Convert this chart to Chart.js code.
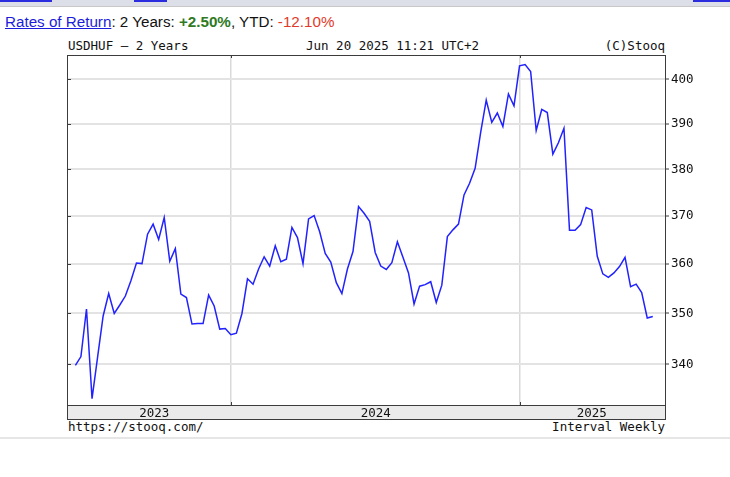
<!DOCTYPE html>
<html>
<head>
<meta charset="utf-8">
<script src="https://cdn.jsdelivr.net/npm/chart.js@4.4.1/dist/chart.umd.min.js"></script>
<style>
  body { margin: 0; background: #fff; }
  #wrap { position: relative; width: 730px; height: 477px; overflow: hidden; }
  .mono { position: absolute; font-family: "DejaVu Sans Mono", monospace; font-size: 12.5px; line-height: 1; color: #111; white-space: pre; }
  #topbar { position: absolute; left: 0; top: 0; width: 730px; height: 6px; background: #dcdfe8; border-bottom: 1px solid #c8c8c8; }
  .ul { position: absolute; top: 0; height: 2px; background: #2b2be0; }
  #ret { position: absolute; left: 5px; top: 14px; font-family: "Liberation Sans", Arial, sans-serif; font-size: 15.2px; line-height: 1; color: #111; white-space: pre; }
  #ret a { color: #1c1cdc; text-decoration: underline; }
  #sep { position: absolute; left: 0; top: 437px; width: 730px; height: 2px; background: #e6e6e6; }
  canvas { position: absolute; left: 0; top: 0; }
</style>
</head>
<body>
<div id="wrap">
  <div id="topbar"></div>
  <div class="ul" style="left:0;width:52px"></div>
  <div class="ul" style="left:134px;width:33px"></div>
  <div class="ul" style="left:693px;width:37px"></div>
  <div id="ret"><a href="#">Rates of Return</a>: 2 Years: <b style="color:#2f7a22">+2.50%</b>, YTD: <span style="color:#e23a2a">-12.10%</span></div>
  <div class="mono" style="left:68px;top:39.5px">USDHUF – 2 Years</div>
  <div class="mono" style="left:306px;top:39.5px">Jun 20 2025 11:21 UTC+2</div>
  <div class="mono" style="right:65px;top:39.5px">(C)Stooq</div>
  <div class="mono" style="left:68px;top:421px">https://stooq.com/</div>
  <div class="mono" style="right:65px;top:421px">Interval Weekly</div>
  <div id="sep"></div>
  <canvas id="usdhufChart" width="730" height="477"></canvas>
</div>
<script>
// weekly closes USDHUF, Jun 2023 - Jun 20 2025
const closes = [
  339.8, 341.5, 350.9, 333.4, 341.4, 349.5, 354.0, 350.0, 351.7, 353.5,
  356.6, 360.2, 360.1, 366.2, 368.3, 365.1, 369.7, 360.6, 363.2, 353.9,
  353.2, 347.9, 348.0, 348.0, 353.7, 351.5, 346.9, 347.0, 345.8, 346.1,
  350.0, 357.0, 355.9, 359.0, 361.5, 359.6, 363.8, 360.5, 361.0, 367.6,
  365.5, 360.1, 369.4, 370.1, 366.7, 362.2, 360.4, 356.2, 354.0, 359.0,
  362.6, 372.0, 370.6, 368.9, 362.4, 359.6, 358.9, 360.3, 364.6, 361.4,
  358.2, 351.9, 355.5, 355.8, 356.4, 352.2, 355.7, 365.7, 367.1, 368.3,
  374.5, 377.0, 380.2, 388.1, 395.3, 390.3, 392.4, 389.4, 396.7, 394.0,
  403.1, 403.4, 401.8, 388.5, 393.2, 392.5, 383.3, 385.8, 389.0, 367.0,
  367.0, 368.2, 371.8, 371.3, 361.6, 358.0, 357.3, 358.2, 359.5, 361.4,
  355.4, 355.9, 354.2, 349.1, 349.4
];
const yearLabels = ['2023', '2024', '2025'];
const yearMid = [14.2, 54.1, 93.0];   // week index where the year label sits
const yearBreaks = [28, 80];          // week index of Jan 1
const yTicks = [340, 350, 360, 370, 380, 390, 400];

const X_MIN = -1.33, X_MAX = 106.2;
const Y_MIN = 332.2, Y_MAX = 405.6;

const monoFont = { family: 'DejaVu Sans Mono', size: 12.5 };

// frame round the plot and the year strip, small ticks
const framePlugin = {
  id: 'frame',
  afterDatasetsDraw(chart) {
    const a = chart.chartArea;
    const ctx = chart.ctx;
    const x = chart.scales.x, y = chart.scales.y;
    ctx.save();
    ctx.strokeStyle = '#3c3c3c';
    ctx.lineWidth = 1;
    ctx.strokeRect(a.left - 0.5, a.top + 0.5, a.right - a.left + 1, a.bottom - a.top);
    ctx.strokeRect(a.left - 0.5, a.bottom + 0.5, a.right - a.left + 1, 14);
    ctx.beginPath();
    yTicks.forEach(v => {
      const py = Math.round(y.getPixelForValue(v)) + 0.5;
      ctx.moveTo(a.left, py);
      ctx.lineTo(a.left + 3, py);
    });
    yearBreaks.forEach(v => {
      const px = Math.round(x.getPixelForValue(v)) + 0.5;
      ctx.moveTo(px, a.bottom);
      ctx.lineTo(px, a.bottom - 3);
      ctx.moveTo(px, a.top);
      ctx.lineTo(px, a.top + 3);
    });
    ctx.stroke();
    ctx.restore();
  }
};

const data = {
  datasets: [{
    data: closes.map((v, i) => ({ x: i, y: v })),
    borderColor: '#2222ff',
    borderWidth: 1.5,
    pointRadius: 0,
    tension: 0,
    fill: false
  }]
};

const config = {
  type: 'line',
  data: data,
  options: {
    responsive: false,
    animation: false,
    events: [],
    layout: {
      padding: { left: 68, top: 55, right: 25, bottom: 58 }
    },
    plugins: {
      legend: { display: false },
      tooltip: { enabled: false }
    },
    scales: {
      x: {
        type: 'linear',
        position: 'bottom',
        min: X_MIN,
        max: X_MAX,
        afterBuildTicks: s => { s.ticks = yearBreaks.map(v => ({ value: v })); },
        afterFit: s => { s.height = 0; },
        ticks: { display: false },
        border: { display: false },
        grid: { color: '#d9d9d9', lineWidth: 1.5, drawTicks: false }
      },
      x2: {
        type: 'linear',
        position: 'bottom',
        min: X_MIN,
        max: X_MAX,
        backgroundColor: '#ebebeb',
        afterBuildTicks: s => { s.ticks = yearMid.map(v => ({ value: v })); },
        afterFit: s => { s.height = 14; },
        ticks: {
          autoSkip: false,
          maxRotation: 0,
          padding: 1,
          color: '#111',
          font: monoFont,
          callback: (v, i) => yearLabels[i]
        },
        border: { display: false },
        grid: { display: false, drawTicks: false }
      },
      y: {
        type: 'logarithmic',
        position: 'right',
        min: Y_MIN,
        max: Y_MAX,
        afterBuildTicks: s => { s.ticks = yTicks.map(v => ({ value: v })); },
        afterFit: s => { s.width = 40; },
        ticks: {
          padding: 2,
          color: '#111',
          font: monoFont,
          callback: v => String(v)
        },
        border: { display: false },
        grid: { color: '#e3e3e3', lineWidth: 2, tickColor: '#3c3c3c', tickLength: 4, tickWidth: 1 }
      }
    }
  },
  plugins: [framePlugin]
};

const usdhufChart = new Chart(document.getElementById('usdhufChart'), config);
</script>
</body>
</html>
